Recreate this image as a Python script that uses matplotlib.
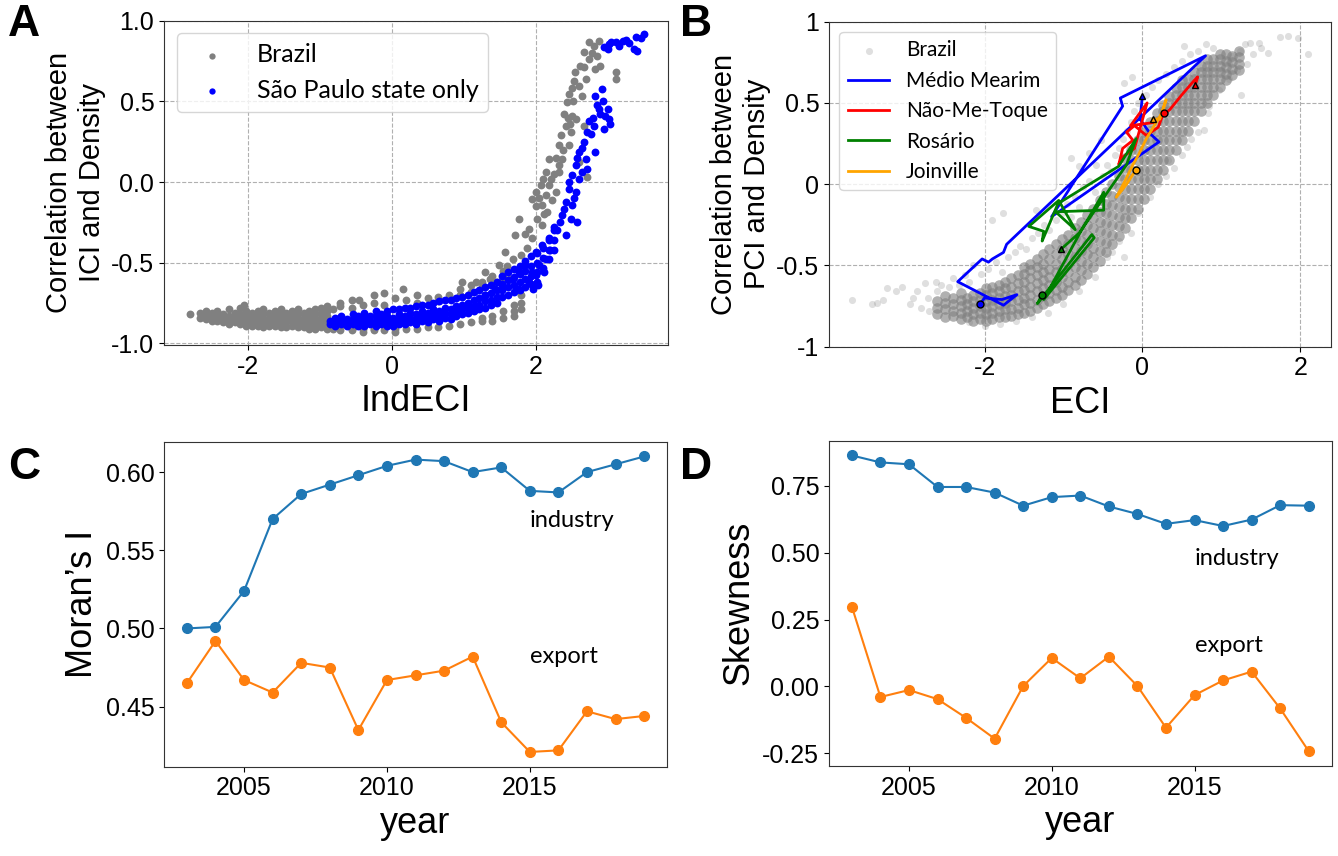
import matplotlib
matplotlib.use("Agg")
import matplotlib.pyplot as plt
from matplotlib.ticker import FuncFormatter

plt.rcParams['font.family'] = ['Liberation Sans', 'DejaVu Sans']
plt.rcParams['axes.unicode_minus'] = False

# ---------------- Panel A: IndECI vs correlation(ICI, density) ----------------
# dense band, written as (x, [y values]) columns
brazil_a_band = [
    (-2.80, [-0.82]), (-2.66, [-0.81, -0.84]), (-2.58, [-0.80, -0.83, -0.85]),
    (-2.50, [-0.81, -0.84, -0.86]), (-2.42, [-0.80, -0.83, -0.86]),
    (-2.34, [-0.82, -0.85, -0.87]), (-2.26, [-0.79, -0.83, -0.86, -0.88]),
    (-2.18, [-0.81, -0.84, -0.87]), (-2.10, [-0.78, -0.82, -0.85, -0.88]),
    (-2.05, [-0.76]), (-2.02, [-0.80, -0.83, -0.86, -0.89]),
    (-1.94, [-0.81, -0.84, -0.87, -0.89]), (-1.86, [-0.80, -0.83, -0.86, -0.89]),
    (-1.78, [-0.79, -0.82, -0.85, -0.88, -0.90]), (-1.70, [-0.81, -0.84, -0.87, -0.89]),
    (-1.62, [-0.80, -0.83, -0.86, -0.89]), (-1.54, [-0.79, -0.82, -0.85, -0.88, -0.90]),
    (-1.46, [-0.81, -0.84, -0.87, -0.90]), (-1.38, [-0.80, -0.83, -0.86, -0.89]),
    (-1.30, [-0.79, -0.82, -0.85, -0.88, -0.90]), (-1.22, [-0.81, -0.84, -0.87, -0.90]),
    (-1.14, [-0.80, -0.83, -0.86, -0.89, -0.91]), (-1.06, [-0.79, -0.82, -0.85, -0.88, -0.91]),
    (-0.98, [-0.78, -0.81, -0.84, -0.87, -0.90]), (-0.90, [-0.77, -0.80, -0.83, -0.86, -0.89, -0.91]),
    (-0.82, [-0.79, -0.88, -0.91]), (-0.72, [-0.75, -0.77, -0.90, -0.92]),
    (-0.55, [-0.73, -0.78, -0.91, -0.92]), (-0.45, [-0.73]), (-0.40, [-0.76, -0.91, -0.93]),
    (-0.25, [-0.70, -0.75, -0.91, -0.92]), (-0.10, [-0.69, -0.76, -0.92]),
    (0.05, [-0.72, -0.91, -0.93]), (0.16, [-0.66]), (0.20, [-0.73, -0.91]),
    (0.35, [-0.70, -0.75, -0.91]), (0.50, [-0.72, -0.90]), (0.65, [-0.71, -0.74, -0.90]),
    (0.80, [-0.70, -0.89]), (0.95, [-0.66, -0.70, -0.88]), (1.10, [-0.64, -0.68, -0.87]),
    (1.25, [-0.62, -0.84, -0.86]), (1.40, [-0.58, -0.62, -0.83, -0.86]),
    (1.55, [-0.55, -0.60, -0.80, -0.84]), (1.70, [-0.76, -0.80, -0.83]),
    (1.80, [-0.70, -0.75, -0.79]),
]
brazil_a_upper = [
    (2.74, 0.866), (2.81, 0.845), (2.88, 0.876), (2.67, 0.804), (2.74, 0.763), (2.83, 0.701),
    (2.90, 0.722), (3.11, 0.68), (3.11, 0.639), (2.67, 0.711), (2.53, 0.629), (2.60, 0.598),
    (2.46, 0.546), (2.44, 0.495), (2.65, 0.536), (2.51, 0.412), (2.56, 0.392), (2.42, 0.35),
    (2.35, 0.289), (2.49, 0.309), (2.67, 0.35), (2.32, 0.227), (2.46, 0.227), (2.37, 0.144),
    (2.19, 0.144), (2.14, 0.062), (2.21, 0.021), (2.07, -0.021), (2.00, -0.062), (2.14, -0.082),
    (1.95, -0.103), (2.23, -0.113), (2.09, -0.144), (2.16, -0.186), (2.02, -0.227), (2.28, -0.062),
    (2.32, 0.062), (1.77, -0.227), (1.91, -0.289), (2.09, -0.268), (1.72, -0.33), (1.95, -0.35),
    (1.88, -0.412), (1.58, -0.433), (1.68, -0.474), (1.49, -0.515), (1.30, -0.557), (1.17, -0.619),
    (0.98, -0.619), (1.37, -0.598), (2.32, 0.103), (2.72, 0.031), (2.60, 0.124), (2.78, 0.80),
    (2.85, 0.78), (2.55, 0.68), (2.50, 0.58), (2.40, 0.42), (2.45, 0.40), (2.38, 0.20),
    (2.28, 0.15), (2.25, 0.05), (2.10, 0.02), (2.05, -0.10), (2.18, -0.02), (2.12, -0.20),
    (2.00, -0.15), (1.85, -0.32), (1.80, -0.45), (1.60, -0.52), (1.55, -0.58), (1.65, -0.60),
    (1.45, -0.62), (1.25, -0.65), (2.52, 0.50), (2.62, 0.72), (2.70, 0.64), (2.48, 0.36),
]
sp_a_band = [
    (-0.85, [-0.86, -0.88]), (-0.78, [-0.84, -0.87, -0.89]), (-0.70, [-0.83, -0.86, -0.88]),
    (-0.62, [-0.85, -0.87, -0.89]), (-0.54, [-0.82, -0.85, -0.88]), (-0.46, [-0.83, -0.86, -0.89]),
    (-0.38, [-0.81, -0.84, -0.87, -0.89]), (-0.30, [-0.83, -0.86, -0.88]),
    (-0.22, [-0.80, -0.83, -0.86, -0.89]), (-0.14, [-0.82, -0.85, -0.88]),
    (-0.06, [-0.80, -0.83, -0.86, -0.89]), (0.02, [-0.79, -0.84, -0.87, -0.89]),
    (0.10, [-0.79, -0.82, -0.85, -0.88]), (0.18, [-0.78, -0.83, -0.86, -0.88]),
    (0.26, [-0.78, -0.81, -0.84, -0.87]), (0.34, [-0.77, -0.82, -0.85, -0.88]),
    (0.42, [-0.76, -0.80, -0.83, -0.86]), (0.50, [-0.76, -0.81, -0.84, -0.87]),
    (0.58, [-0.75, -0.79, -0.82, -0.85]), (0.66, [-0.74, -0.80, -0.83, -0.86]),
    (0.74, [-0.73, -0.78, -0.81, -0.84]), (0.82, [-0.73, -0.79, -0.82, -0.85]),
    (0.90, [-0.72, -0.77, -0.80, -0.83]), (0.98, [-0.71, -0.76, -0.79, -0.82]),
    (1.06, [-0.70, -0.75, -0.78, -0.81]), (1.14, [-0.68, -0.73, -0.77, -0.80]),
    (1.22, [-0.67, -0.72, -0.76, -0.79]), (1.30, [-0.65, -0.70, -0.74, -0.78]),
    (1.38, [-0.64, -0.69, -0.73, -0.76]), (1.46, [-0.62, -0.67, -0.71, -0.75]),
    (1.54, [-0.58, -0.63, -0.67, -0.71]), (1.62, [-0.56, -0.61, -0.65, -0.70]),
    (1.70, [-0.54, -0.59, -0.64, -0.68]), (1.78, [-0.52, -0.57, -0.62, -0.67]),
    (1.86, [-0.49, -0.55, -0.60, -0.65]), (1.94, [-0.46, -0.52, -0.58, -0.63]),
    (2.02, [-0.44, -0.50, -0.56, -0.62]), (2.10, [-0.41, -0.47, -0.53]),
    (2.18, [-0.36, -0.42, -0.48]), (2.26, [-0.30, -0.36, -0.42]),
]
sp_a_upper = [
    (2.95, 0.835), (3.02, 0.856), (3.11, 0.866), (3.21, 0.876), (3.30, 0.86), (3.37, 0.825),
    (3.39, 0.897), (3.51, 0.917), (3.41, 0.814), (3.00, 0.825), (3.16, 0.845), (3.05, 0.87),
    (3.26, 0.88), (3.46, 0.89),
    (2.92, 0.577), (2.83, 0.536), (2.93, 0.505), (3.00, 0.454), (2.88, 0.454), (3.02, 0.392),
    (2.95, 0.33), (2.81, 0.35), (2.74, 0.381), (2.77, 0.299), (2.72, 0.309), (2.97, 0.412),
    (2.86, 0.48), (2.90, 0.42), (3.04, 0.36), (2.80, 0.40),
    (2.67, 0.247), (2.60, 0.186), (2.70, 0.144), (2.56, 0.103), (2.51, 0.041), (2.60, 0.021),
    (2.46, -0.041), (2.56, -0.062), (2.42, -0.124), (2.51, -0.144), (2.37, -0.206), (2.49, -0.227),
    (2.42, -0.33), (2.58, -0.247), (2.83, 0.186), (2.72, 0.082), (2.64, 0.06), (2.53, -0.10),
    (2.47, 0.00), (2.40, -0.17), (2.65, 0.21), (2.58, 0.15), (2.34, -0.25), (2.30, -0.30),
    (2.25, -0.278), (2.19, -0.35), (2.09, -0.39), (2.00, -0.433), (2.14, -0.474), (2.05, -0.515),
    (1.95, -0.557), (1.86, -0.515), (1.77, -0.557), (1.68, -0.598), (1.54, -0.639), (1.44, -0.66),
    (1.30, -0.70), (2.00, -0.577), (1.91, -0.619), (1.77, -0.66), (2.20, -0.42), (2.12, -0.56),
    (1.97, -0.66), (2.03, -0.64),
]

# ---------------- Panel B: ECI vs correlation(PCI, density) ----------------
brazil_b_core = [
    (-2.60, [-0.80, -0.76, -0.72]), (-2.50, [-0.82, -0.77, -0.73, -0.69]),
    (-2.40, [-0.81, -0.78, -0.74, -0.70]), (-2.30, [-0.83, -0.79, -0.75, -0.71, -0.67]),
    (-2.22, [-0.82, -0.78, -0.74, -0.70]), (-2.14, [-0.84, -0.80, -0.76, -0.72, -0.68]),
    (-2.06, [-0.83, -0.79, -0.75, -0.71, -0.67]), (-1.98, [-0.84, -0.80, -0.76, -0.72, -0.68, -0.64]),
    (-1.90, [-0.83, -0.79, -0.75, -0.71, -0.67, -0.63]), (-1.82, [-0.82, -0.78, -0.74, -0.70, -0.66, -0.62]),
    (-1.74, [-0.82, -0.77, -0.73, -0.69, -0.64, -0.60]), (-1.66, [-0.81, -0.77, -0.72, -0.68, -0.63, -0.58]),
    (-1.58, [-0.80, -0.76, -0.71, -0.66, -0.61, -0.56]), (-1.50, [-0.79, -0.74, -0.70, -0.65, -0.60, -0.55, -0.51]),
    (-1.42, [-0.78, -0.73, -0.68, -0.63, -0.58, -0.53, -0.49]), (-1.34, [-0.76, -0.71, -0.66, -0.61, -0.56, -0.51, -0.46]),
    (-1.26, [-0.74, -0.69, -0.64, -0.59, -0.54, -0.49, -0.43]), (-1.18, [-0.72, -0.67, -0.62, -0.57, -0.52, -0.46, -0.40]),
    (-1.10, [-0.70, -0.65, -0.60, -0.54, -0.49, -0.43, -0.37]), (-1.02, [-0.68, -0.63, -0.57, -0.52, -0.46, -0.40, -0.34]),
    (-0.94, [-0.65, -0.60, -0.54, -0.49, -0.43, -0.37, -0.31]), (-0.86, [-0.62, -0.57, -0.51, -0.45, -0.39, -0.33, -0.27]),
    (-0.78, [-0.59, -0.53, -0.47, -0.41, -0.35, -0.29, -0.23]), (-0.70, [-0.55, -0.49, -0.43, -0.37, -0.31, -0.25, -0.19]),
    (-0.62, [-0.51, -0.45, -0.39, -0.33, -0.27, -0.21, -0.15]), (-0.54, [-0.47, -0.41, -0.35, -0.29, -0.23, -0.17, -0.10]),
    (-0.46, [-0.42, -0.36, -0.30, -0.24, -0.18, -0.12, -0.05]), (-0.38, [-0.37, -0.31, -0.25, -0.19, -0.13, -0.07, 0.00]),
    (-0.30, [-0.32, -0.26, -0.20, -0.14, -0.08, -0.02, 0.05]), (-0.22, [-0.27, -0.21, -0.15, -0.09, -0.03, 0.03, 0.10, 0.16]),
    (-0.14, [-0.21, -0.15, -0.09, -0.03, 0.03, 0.09, 0.15, 0.21]), (-0.06, [-0.15, -0.09, -0.03, 0.03, 0.09, 0.15, 0.21, 0.27]),
    (0.02, [-0.09, -0.03, 0.03, 0.09, 0.15, 0.21, 0.27, 0.32]), (0.10, [-0.03, 0.03, 0.09, 0.15, 0.21, 0.27, 0.33, 0.38]),
    (0.18, [0.03, 0.09, 0.15, 0.21, 0.27, 0.33, 0.39, 0.44]), (0.26, [0.09, 0.15, 0.21, 0.27, 0.33, 0.39, 0.45, 0.49]),
    (0.34, [0.15, 0.21, 0.27, 0.33, 0.39, 0.45, 0.50, 0.54]), (0.42, [0.21, 0.27, 0.33, 0.39, 0.45, 0.50, 0.55, 0.59]),
    (0.50, [0.27, 0.33, 0.39, 0.45, 0.50, 0.55, 0.60, 0.64]), (0.58, [0.33, 0.39, 0.45, 0.50, 0.55, 0.60, 0.65]),
    (0.66, [0.39, 0.45, 0.50, 0.55, 0.60, 0.65, 0.69]), (0.74, [0.45, 0.50, 0.55, 0.60, 0.65, 0.69, 0.73]),
    (0.82, [0.50, 0.55, 0.60, 0.65, 0.69, 0.73, 0.77]), (0.90, [0.55, 0.60, 0.65, 0.69, 0.73, 0.77]),
    (0.98, [0.60, 0.65, 0.69, 0.73, 0.77, 0.80]), (1.06, [0.64, 0.68, 0.72, 0.76, 0.80]),
    (1.14, [0.67, 0.71, 0.75, 0.79]), (1.22, [0.70, 0.74, 0.78, 0.82]),
]
brazil_b_sparse = [
    (-3.68, -0.71), (-3.42, -0.74), (-3.36, -0.73), (-3.28, -0.71), (-3.24, -0.64), (-3.05, -0.63),
    (-3.12, -0.66), (-2.76, -0.61), (-2.62, -0.60), (-2.85, -0.66), (-2.95, -0.74), (-2.90, -0.70),
    (-2.80, -0.76), (-2.70, -0.78), (-2.72, -0.70), (-2.60, -0.66), (-2.55, -0.62), (-2.45, -0.63),
    (-2.40, -0.58), (-2.32, -0.62), (-2.25, -0.56), (-2.20, -0.60), (-2.15, -0.50), (-2.05, -0.55),
    (-1.95, -0.52), (-1.85, -0.48), (-1.78, -0.54), (-1.70, -0.45), (-1.62, -0.42), (-1.55, -0.38),
    (-1.48, -0.40), (-1.40, -0.33), (-1.32, -0.30), (-1.25, -0.25), (-1.35, -0.16), (-1.76, -0.18),
    (-1.91, -0.22), (-1.18, -0.28), (-1.10, -0.22), (-1.02, -0.18), (-0.95, -0.12), (-0.90, -0.20),
    (-0.85, -0.08), (-0.80, -0.14), (-0.75, -0.02), (-0.68, 0.02), (-0.91, 0.16), (-0.80, 0.11),
    (-0.68, 0.19), (-0.53, 0.27), (-0.59, 0.12), (-0.60, -0.05), (-0.50, 0.05), (-0.45, 0.12),
    (-0.40, 0.08), (-0.35, 0.18), (-0.30, 0.22), (-0.25, 0.28), (-0.20, 0.33), (-0.15, 0.38),
    (-0.23, 0.62), (-0.13, 0.66), (-0.10, 0.45), (-0.05, 0.50), (0.05, 0.55), (0.12, 0.60),
    (0.20, 0.64), (0.30, 0.68), (0.40, 0.72), (0.50, 0.76), (0.53, 0.85), (0.60, 0.80),
    (0.70, 0.82), (0.80, 0.86), (0.90, 0.84),
    (-2.20, -0.85), (-2.00, -0.87), (-1.80, -0.86), (-1.60, -0.84), (-1.40, -0.82), (-1.20, -0.79),
    (-1.00, -0.74), (-0.80, -0.66), (-0.60, -0.57), (-0.45, -0.447), (-0.38, -0.416), (-0.23, -0.447),
    (-0.30, -0.35), (-0.15, -0.30), (-0.05, -0.18), (0.10, -0.08), (0.20, 0.00), (0.32, 0.15),
    (0.30, 0.05), (0.40, 0.10), (0.50, 0.18), (0.57, 0.23), (0.61, 0.28), (0.70, 0.32),
    (0.78, 0.335), (0.83, 0.44), (0.85, 0.48), (0.97, 0.58), (1.10, 0.65), (1.25, 0.55),
    (1.33, 0.74), (1.14, 0.79), (1.24, 0.82), (1.30, 0.86), (1.36, 0.87), (1.48, 0.87),
    (1.59, 0.81), (1.74, 0.907), (1.84, 0.91), (1.97, 0.90), (2.10, 0.80), (1.00, 0.70),
    (1.10, 0.75), (1.40, 0.80), (1.50, 0.84), (1.20, 0.70),
]
# trajectories (first point = circle, last point = triangle)
medio_mearim = [
    (-2.06, -0.74), (-2.00, -0.70), (-1.78, -0.71), (-1.59, -0.68), (-1.76, -0.745), (-2.34, -0.60),
    (-2.03, -0.46), (-1.95, -0.48), (-1.90, -0.46), (-1.76, -0.42), (-1.72, -0.37), (0.80, 0.79),
    (-0.28, 0.53), (-0.25, 0.48), (-1.15, -0.20), (0.21, 0.26), (0.10, 0.31), (-0.03, 0.40),
    (0.00, 0.54),
]
nao_me_toque = [
    (0.27, 0.44), (0.20, 0.35), (0.05, 0.30), (-0.10, 0.36), (-0.20, 0.32), (-0.12, 0.27),
    (-0.25, 0.22), (-0.30, 0.12), (-0.24, 0.17), (-0.10, 0.22), (0.06, 0.50), (-0.15, 0.36),
    (0.15, 0.38), (0.35, 0.46), (0.50, 0.55), (0.66, 0.64), (0.70, 0.66), (0.67, 0.61),
]
rosario = [
    (-1.27, -0.68), (-1.33, -0.735), (-0.64, -0.31), (-0.61, -0.33), (-1.25, -0.71), (-0.78, -0.29),
    (-0.49, -0.05), (-0.49, -0.16), (-1.10, -0.17), (-0.85, -0.28), (-1.06, -0.10), (-1.44, -0.26),
    (-1.25, -0.29), (-1.27, -0.35), (-1.20, -0.27), (-1.07, -0.12), (-0.30, 0.11), (-0.08, 0.28),
    (-0.20, 0.12), (-0.80, -0.30), (-1.03, -0.40),
]
joinville = [
    (-0.08, 0.09), (-0.20, 0.00), (-0.33, -0.08), (-0.22, 0.02), (-0.12, 0.12), (-0.05, 0.18),
    (0.05, 0.28), (0.15, 0.36), (0.25, 0.44), (0.30, 0.52), (0.22, 0.40), (0.13, 0.40),
]

# ---------------- Panels C and D ----------------
years = list(range(2003, 2020))
moran_industry = [0.500, 0.501, 0.524, 0.570, 0.586, 0.592, 0.598, 0.604, 0.608, 0.607,
                  0.600, 0.603, 0.588, 0.587, 0.600, 0.605, 0.610]
moran_export = [0.465, 0.492, 0.467, 0.459, 0.478, 0.475, 0.435, 0.467, 0.470, 0.473,
                0.482, 0.440, 0.421, 0.422, 0.447, 0.442, 0.444]
skew_industry = [0.864, 0.838, 0.831, 0.746, 0.746, 0.725, 0.676, 0.708, 0.714, 0.673,
                 0.645, 0.608, 0.622, 0.600, 0.624, 0.678, 0.676]
skew_export = [0.298, -0.040, -0.014, -0.048, -0.118, -0.196, 0.001, 0.106, 0.030, 0.111,
               0.001, -0.155, -0.033, 0.022, 0.055, -0.083, -0.243]


def from_columns(cols):
    xs, ys = [], []
    for x, yl in cols:
        for y in yl:
            xs.append(x)
            ys.append(y)
    return xs, ys


def from_pairs(pairs):
    return [p[0] for p in pairs], [p[1] for p in pairs]


TICK = 18
LABEL = 26
note_font = {'family': 'Lato', 'size': 17}

fig = plt.figure(figsize=(13.38, 8.56), dpi=100)
axA = fig.add_axes([0.1226, 0.597, 0.3767, 0.3788])
axB = fig.add_axes([0.6196, 0.595, 0.3752, 0.3797])
axC = fig.add_axes([0.1226, 0.1043, 0.3759, 0.3797])
axD = fig.add_axes([0.6196, 0.1051, 0.3756, 0.3801])

# --- A
bx1, by1 = from_columns(brazil_a_band)
bx2, by2 = from_pairs(brazil_a_upper)
sx1, sy1 = from_columns(sp_a_band)
sx2, sy2 = from_pairs(sp_a_upper)
axA.scatter(bx1 + bx2, by1 + by2, s=32, color='gray', linewidths=0, label='Brazil', zorder=2)
axA.scatter(sx1 + sx2, sy1 + sy2, s=32, color='blue', linewidths=0, label='São Paulo state only', zorder=3)
axA.set_xlim(-3.16, 3.84)
axA.set_ylim(-1.01, 1.0)
axA.set_xticks([-2, 0, 2])
axA.set_yticks([-1.0, -0.5, 0.0, 0.5, 1.0])
axA.yaxis.set_major_formatter(FuncFormatter(lambda v, p: f"{v:.1f}"))
axA.grid(True, linestyle='--', color='#b0b0b0', linewidth=0.8)
axA.set_axisbelow(True)
axA.set_xlabel('IndECI', fontsize=LABEL)
axA.set_ylabel('Correlation between\nICI and Density', fontsize=21)
axA.legend(loc='upper left', prop={'family': 'Lato', 'size': 18}, handletextpad=0.8,
           markerscale=0.8)

# --- B
cx, cy = from_columns(brazil_b_core)
hx, hy = from_pairs(brazil_b_sparse)
axB.scatter(hx, hy, s=26, color='gray', alpha=0.25, linewidths=0, label='Brazil', zorder=2)
axB.scatter(cx, cy, s=58, color='gray', alpha=0.62, linewidths=0, zorder=2)
for path, col, name in [(medio_mearim, 'blue', 'Médio Mearim'),
                        (nao_me_toque, 'red', 'Não-Me-Toque'),
                        (rosario, 'green', 'Rosário'),
                        (joinville, 'orange', 'Joinville')]:
    px, py = from_pairs(path)
    axB.plot(px, py, color=col, lw=2, label=name, zorder=3)
    axB.plot(px[0], py[0], 'o', mfc=col, mec='black', ms=5, mew=1, zorder=4)
    axB.plot(px[-1], py[-1], '^', mfc=col, mec='black', ms=5, mew=1, zorder=4)
axB.set_xlim(-3.97, 2.39)
axB.set_ylim(-1, 1)
axB.set_xticks([-2, 0, 2])
axB.set_yticks([-1, -0.5, 0, 0.5, 1])
axB.yaxis.set_major_formatter(FuncFormatter(lambda v, p: f"{v:g}"))
axB.grid(True, linestyle='--', color='#b0b0b0', linewidth=0.8)
axB.set_axisbelow(True)
axB.set_xlabel('ECI', fontsize=LABEL)
axB.set_ylabel('Correlation between\nPCI and Density', fontsize=21)
axB.legend(loc='upper left', prop={'family': 'Lato', 'size': 15})

# --- C
axC.plot(years, moran_industry, '-o', color='tab:blue', ms=7, lw=1.5)
axC.plot(years, moran_export, '-o', color='tab:orange', ms=7, lw=1.5)
axC.text(2015, 0.565, 'industry', fontdict=note_font)
axC.text(2015, 0.478, 'export', fontdict=note_font)
axC.set_xticks([2005, 2010, 2015])
axC.set_yticks([0.45, 0.50, 0.55, 0.60])
axC.yaxis.set_major_formatter(FuncFormatter(lambda v, p: f"{v:.2f}"))
axC.set_xlabel('year', fontsize=LABEL)
axC.set_ylabel('Moran’s I', fontsize=LABEL)

# --- D
axD.plot(years, skew_industry, '-o', color='tab:blue', ms=7, lw=1.5)
axD.plot(years, skew_export, '-o', color='tab:orange', ms=7, lw=1.5)
axD.text(2015, 0.455, 'industry', fontdict=note_font)
axD.text(2015, 0.128, 'export', fontdict=note_font)
axD.set_xticks([2005, 2010, 2015])
axD.set_yticks([-0.25, 0.0, 0.25, 0.50, 0.75])
axD.yaxis.set_major_formatter(FuncFormatter(lambda v, p: f"{v:.2f}"))
axD.set_xlabel('year', fontsize=LABEL)
axD.set_ylabel('Skewness', fontsize=LABEL)

for ax in (axA, axB, axC, axD):
    ax.tick_params(labelsize=TICK)
    for sp in ax.spines.values():
        sp.set_color('#333333')

for lbl, x, y in [('A', 0.006, 0.995), ('B', 0.508, 0.995), ('C', 0.006, 0.478), ('D', 0.508, 0.478)]:
    fig.text(x, y, lbl, fontsize=32, fontweight='bold', va='top', ha='left')

fig.savefig('out.png', dpi=100)
